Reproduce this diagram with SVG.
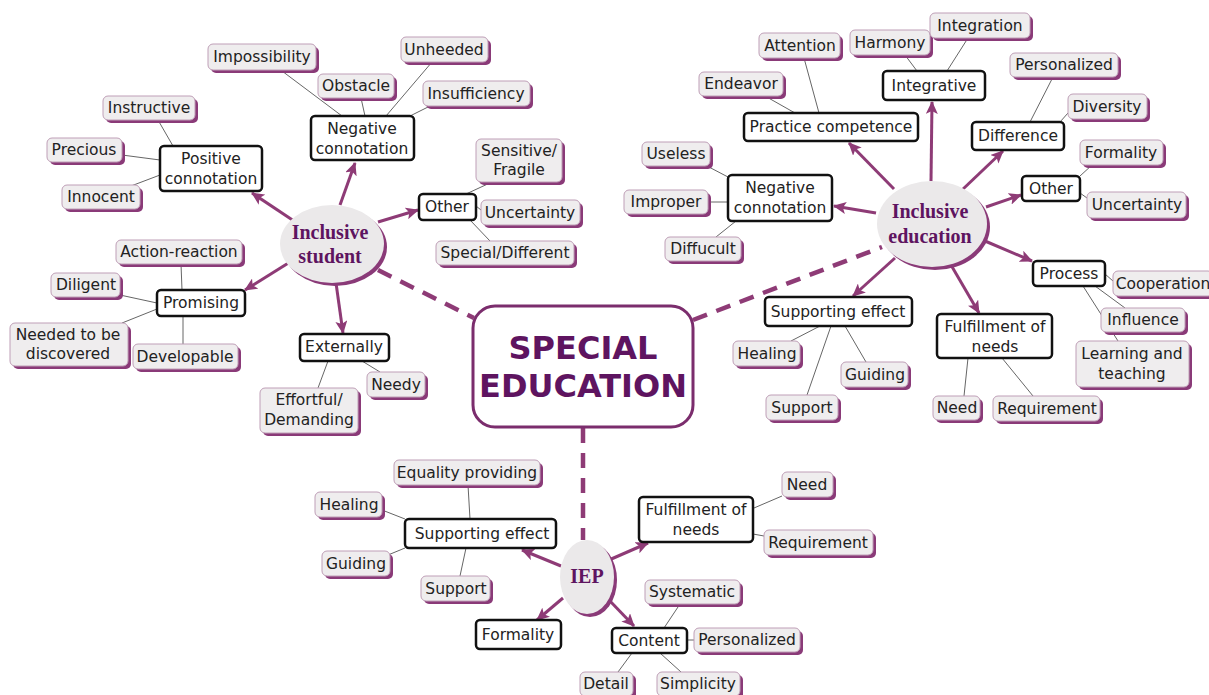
<svg xmlns="http://www.w3.org/2000/svg" width="1209" height="695" viewBox="0 0 1209 695">
<defs>
<style>
.sh{fill:#8a3a78}
.lf{fill:#efedee;stroke:#bf9fb7;stroke-width:1}
.ct{fill:#fff;stroke:#111;stroke-width:2.5}
.t{font-family:"DejaVu Sans",Verdana,sans-serif;font-size:15.5px;fill:#222;text-anchor:middle}
.et{font-family:"Liberation Serif","Times New Roman",serif;font-size:20px;font-weight:bold;fill:#5e1460;text-anchor:middle}
.ell{fill:#ebe9ea}
.lk{stroke:#666;stroke-width:1;fill:none}
.ar{stroke:#8e3b76;stroke-width:3;fill:none;marker-end:url(#ah)}
.ds{stroke:#8e3b76;stroke-width:4.5;fill:none;stroke-dasharray:15 10}
</style>
<marker id="ah" markerWidth="14" markerHeight="12" refX="12" refY="6" orient="auto" markerUnits="userSpaceOnUse">
<path d="M0,0 L13,6 L0,12 L3,6 Z" fill="#8e3b76"/>
</marker>
</defs>
<rect width="1209" height="695" fill="#fff"/>

<g id="connectors">
<line class="ds" x1="378" y1="270" x2="474" y2="318"/>
<line class="ds" x1="693" y1="320" x2="882" y2="247"/>
<line class="ds" x1="583" y1="428" x2="583" y2="540"/>
<line class="ar" x1="294" y1="221" x2="252" y2="193"/>
<line class="ar" x1="340" y1="205" x2="355" y2="163"/>
<line class="ar" x1="378" y1="222" x2="418" y2="210"/>
<line class="ar" x1="290" y1="262" x2="245" y2="290"/>
<line class="ar" x1="336" y1="283" x2="343" y2="333"/>
<line class="ar" x1="894" y1="189" x2="849" y2="143"/>
<line class="ar" x1="931" y1="181" x2="932" y2="102"/>
<line class="ar" x1="962" y1="190" x2="1003" y2="151"/>
<line class="ar" x1="986" y1="207" x2="1021" y2="195"/>
<line class="ar" x1="876" y1="213" x2="834" y2="206"/>
<line class="ar" x1="985" y1="241" x2="1032" y2="261"/>
<line class="ar" x1="895" y1="258" x2="853" y2="296"/>
<line class="ar" x1="951" y1="265" x2="979" y2="313"/>
<line class="ar" x1="561" y1="566" x2="522" y2="550"/>
<line class="ar" x1="609" y1="560" x2="648" y2="543"/>
<line class="ar" x1="609" y1="600" x2="634" y2="626"/>
<line class="ar" x1="563" y1="598" x2="537" y2="620"/>
<line class="lk" x1="282" y1="71" x2="342" y2="116"/>
<line class="lk" x1="361" y1="98" x2="365" y2="116"/>
<line class="lk" x1="432" y1="62" x2="386" y2="116"/>
<line class="lk" x1="428" y1="107" x2="410" y2="116"/>
<line class="lk" x1="158" y1="120" x2="173" y2="146"/>
<line class="lk" x1="122" y1="155" x2="160" y2="160"/>
<line class="lk" x1="131" y1="186" x2="160" y2="175"/>
<line class="lk" x1="492" y1="182" x2="466" y2="194"/>
<line class="lk" x1="476" y1="206" x2="481" y2="210"/>
<line class="lk" x1="490" y1="241" x2="470" y2="220"/>
<line class="lk" x1="181" y1="264" x2="182" y2="290"/>
<line class="lk" x1="120" y1="295" x2="157" y2="303"/>
<line class="lk" x1="122" y1="323" x2="157" y2="309"/>
<line class="lk" x1="183" y1="344" x2="183" y2="316"/>
<line class="lk" x1="328" y1="361" x2="318" y2="388"/>
<line class="lk" x1="362" y1="361" x2="380" y2="372"/>
<line class="lk" x1="804" y1="58" x2="819" y2="113"/>
<line class="lk" x1="765" y1="96" x2="795" y2="113"/>
<line class="lk" x1="905" y1="55" x2="917" y2="71"/>
<line class="lk" x1="968" y1="38" x2="947" y2="71"/>
<line class="lk" x1="1053" y1="77" x2="1030" y2="122"/>
<line class="lk" x1="1068" y1="113" x2="1060" y2="122"/>
<line class="lk" x1="1092" y1="165" x2="1080" y2="176"/>
<line class="lk" x1="1080" y1="193" x2="1087" y2="198"/>
<line class="lk" x1="707" y1="166" x2="728" y2="177"/>
<line class="lk" x1="708" y1="202" x2="728" y2="202"/>
<line class="lk" x1="716" y1="237" x2="736" y2="221"/>
<line class="lk" x1="1105" y1="274" x2="1113" y2="281"/>
<line class="lk" x1="1095" y1="286" x2="1125" y2="308"/>
<line class="lk" x1="1083" y1="286" x2="1118" y2="341"/>
<line class="lk" x1="791" y1="341" x2="820" y2="326"/>
<line class="lk" x1="807" y1="395" x2="831" y2="326"/>
<line class="lk" x1="866" y1="362" x2="845" y2="326"/>
<line class="lk" x1="964" y1="396" x2="968" y2="358"/>
<line class="lk" x1="1033" y1="396" x2="1002" y2="358"/>
<line class="lk" x1="468" y1="485" x2="470" y2="519"/>
<line class="lk" x1="382" y1="510" x2="405" y2="519"/>
<line class="lk" x1="388" y1="555" x2="405" y2="548"/>
<line class="lk" x1="460" y1="576" x2="466" y2="548"/>
<line class="lk" x1="782" y1="496" x2="754" y2="508"/>
<line class="lk" x1="764" y1="536" x2="753" y2="534"/>
<line class="lk" x1="680" y1="604" x2="664" y2="628"/>
<line class="lk" x1="694" y1="640" x2="687" y2="640"/>
<line class="lk" x1="618" y1="672" x2="632" y2="653"/>
<line class="lk" x1="681" y1="672" x2="660" y2="653"/>
</g>

<g id="special-education">
<rect x="473" y="306" width="220" height="121" rx="22" fill="#fff" stroke="#7b2d6d" stroke-width="3"/>
<text x="583" y="359" font-family="'DejaVu Sans',Verdana,sans-serif" font-size="32" font-weight="bold" fill="#5e1460" text-anchor="middle">SPECIAL</text>
<text x="583" y="397" font-family="'DejaVu Sans',Verdana,sans-serif" font-size="32" font-weight="bold" fill="#5e1460" text-anchor="middle">EDUCATION</text>
</g>

<g id="inclusive-student">
<ellipse class="sh" cx="335" cy="247" rx="52" ry="39"/>
<ellipse class="ell" cx="332" cy="244" rx="52" ry="39"/>
<text class="et" x="330" y="239">Inclusive</text>
<text class="et" x="330" y="263">student</text>
</g>
<g id="inclusive-education">
<ellipse class="sh" cx="935" cy="227" rx="55" ry="43"/>
<ellipse class="ell" cx="932" cy="224" rx="55" ry="43"/>
<text class="et" x="930" y="218">Inclusive</text>
<text class="et" x="930" y="243">education</text>
</g>
<g id="iep">
<ellipse class="sh" cx="590" cy="580" rx="27" ry="37"/>
<ellipse class="ell" cx="587" cy="577" rx="27" ry="37"/>
<text class="et" x="587" y="583">IEP</text>
</g>

<g id="is-negative"><rect class="ct" x="311" y="116" width="103" height="44" rx="4"/><text class="t" x="362" y="134">Negative</text><text class="t" x="362" y="154">connotation</text></g>
<g id="is-impossibility"><rect class="sh" x="211" y="47" width="108" height="26" rx="5"/><rect class="lf" x="208" y="44" width="108" height="26" rx="5"/><text class="t" x="262" y="62">Impossibility</text></g>
<g id="is-unheeded"><rect class="sh" x="404" y="40" width="87" height="25" rx="5"/><rect class="lf" x="401" y="37" width="87" height="25" rx="5"/><text class="t" x="444" y="55">Unheeded</text></g>
<g id="is-obstacle"><rect class="sh" x="321" y="77" width="76" height="24" rx="5"/><rect class="lf" x="318" y="74" width="76" height="24" rx="5"/><text class="t" x="356" y="91">Obstacle</text></g>
<g id="is-insufficiency"><rect class="sh" x="426" y="84" width="107" height="25" rx="5"/><rect class="lf" x="423" y="81" width="107" height="25" rx="5"/><text class="t" x="476" y="99">Insufficiency</text></g>
<g id="is-positive"><rect class="ct" x="160" y="146" width="102" height="45" rx="4"/><text class="t" x="211" y="164">Positive</text><text class="t" x="211" y="184">connotation</text></g>
<g id="is-instructive"><rect class="sh" x="106" y="99" width="92" height="24" rx="5"/><rect class="lf" x="103" y="96" width="92" height="24" rx="5"/><text class="t" x="149" y="113">Instructive</text></g>
<g id="is-precious"><rect class="sh" x="50" y="141" width="75" height="24" rx="5"/><rect class="lf" x="47" y="138" width="75" height="24" rx="5"/><text class="t" x="84" y="155">Precious</text></g>
<g id="is-innocent"><rect class="sh" x="65" y="188" width="78" height="24" rx="5"/><rect class="lf" x="62" y="185" width="78" height="24" rx="5"/><text class="t" x="101" y="202">Innocent</text></g>
<g id="is-other"><rect class="ct" x="419" y="194" width="57" height="26" rx="4"/><text class="t" x="447" y="212">Other</text></g>
<g id="is-sensitive"><rect class="sh" x="479" y="142" width="86" height="43" rx="5"/><rect class="lf" x="476" y="139" width="86" height="43" rx="5"/><text class="t" x="519" y="156">Sensitive/</text><text class="t" x="519" y="175">Fragile</text></g>
<g id="is-uncertainty"><rect class="sh" x="484" y="203" width="99" height="25" rx="5"/><rect class="lf" x="481" y="200" width="99" height="25" rx="5"/><text class="t" x="530" y="218">Uncertainty</text></g>
<g id="is-special"><rect class="sh" x="439" y="244" width="138" height="24" rx="5"/><rect class="lf" x="436" y="241" width="138" height="24" rx="5"/><text class="t" x="505" y="258">Special/Different</text></g>
<g id="is-promising"><rect class="ct" x="157" y="290" width="88" height="26" rx="4"/><text class="t" x="201" y="308">Promising</text></g>
<g id="is-action"><rect class="sh" x="119" y="243" width="126" height="24" rx="5"/><rect class="lf" x="116" y="240" width="126" height="24" rx="5"/><text class="t" x="179" y="257">Action-reaction</text></g>
<g id="is-diligent"><rect class="sh" x="54" y="276" width="69" height="24" rx="5"/><rect class="lf" x="51" y="273" width="69" height="24" rx="5"/><text class="t" x="86" y="290">Diligent</text></g>
<g id="is-needed"><rect class="sh" x="13" y="326" width="118" height="43" rx="5"/><rect class="lf" x="10" y="323" width="118" height="43" rx="5"/><text class="t" x="68" y="340">Needed to be</text><text class="t" x="68" y="359">discovered</text></g>
<g id="is-developable"><rect class="sh" x="136" y="347" width="105" height="25" rx="5"/><rect class="lf" x="133" y="344" width="105" height="25" rx="5"/><text class="t" x="185" y="362">Developable</text></g>
<g id="is-externally"><rect class="ct" x="300" y="334" width="89" height="27" rx="4"/><text class="t" x="344" y="352">Externally</text></g>
<g id="is-needy"><rect class="sh" x="370" y="375" width="58" height="25" rx="5"/><rect class="lf" x="367" y="372" width="58" height="25" rx="5"/><text class="t" x="396" y="390">Needy</text></g>
<g id="is-effortful"><rect class="sh" x="263" y="391" width="98" height="45" rx="5"/><rect class="lf" x="260" y="388" width="98" height="45" rx="5"/><text class="t" x="309" y="405">Effortful/</text><text class="t" x="309" y="425">Demanding</text></g>

<g id="ie-attention"><rect class="sh" x="762" y="36" width="81" height="25" rx="5"/><rect class="lf" x="759" y="33" width="81" height="25" rx="5"/><text class="t" x="800" y="51">Attention</text></g>
<g id="ie-harmony"><rect class="sh" x="853" y="33" width="80" height="25" rx="5"/><rect class="lf" x="850" y="30" width="80" height="25" rx="5"/><text class="t" x="890" y="48">Harmony</text></g>
<g id="ie-integration"><rect class="sh" x="933" y="16" width="100" height="25" rx="5"/><rect class="lf" x="930" y="13" width="100" height="25" rx="5"/><text class="t" x="980" y="31">Integration</text></g>
<g id="ie-endeavor"><rect class="sh" x="702" y="75" width="84" height="24" rx="5"/><rect class="lf" x="699" y="72" width="84" height="24" rx="5"/><text class="t" x="741" y="89">Endeavor</text></g>
<g id="ie-integrative"><rect class="ct" x="883" y="71" width="102" height="29" rx="4"/><text class="t" x="934" y="91">Integrative</text></g>
<g id="ie-personalized"><rect class="sh" x="1013" y="56" width="108" height="24" rx="5"/><rect class="lf" x="1010" y="53" width="108" height="24" rx="5"/><text class="t" x="1064" y="70">Personalized</text></g>
<g id="ie-practice"><rect class="ct" x="744" y="113" width="174" height="28" rx="4"/><text class="t" x="831" y="132">Practice competence</text></g>
<g id="ie-diversity"><rect class="sh" x="1071" y="97" width="79" height="25" rx="5"/><rect class="lf" x="1068" y="94" width="79" height="25" rx="5"/><text class="t" x="1107" y="112">Diversity</text></g>
<g id="ie-difference"><rect class="ct" x="972" y="122" width="92" height="28" rx="4"/><text class="t" x="1018" y="141">Difference</text></g>
<g id="ie-formality"><rect class="sh" x="1083" y="143" width="83" height="25" rx="5"/><rect class="lf" x="1080" y="140" width="83" height="25" rx="5"/><text class="t" x="1121" y="158">Formality</text></g>
<g id="ie-other"><rect class="ct" x="1022" y="176" width="58" height="25" rx="4"/><text class="t" x="1051" y="194">Other</text></g>
<g id="ie-uncertainty"><rect class="sh" x="1090" y="195" width="99" height="26" rx="5"/><rect class="lf" x="1087" y="192" width="99" height="26" rx="5"/><text class="t" x="1137" y="210">Uncertainty</text></g>
<g id="ie-useless"><rect class="sh" x="645" y="145" width="68" height="24" rx="5"/><rect class="lf" x="642" y="142" width="68" height="24" rx="5"/><text class="t" x="676" y="159">Useless</text></g>
<g id="ie-negative"><rect class="ct" x="728" y="175" width="104" height="46" rx="4"/><text class="t" x="780" y="193">Negative</text><text class="t" x="780" y="213">connotation</text></g>
<g id="ie-improper"><rect class="sh" x="627" y="193" width="84" height="24" rx="5"/><rect class="lf" x="624" y="190" width="84" height="24" rx="5"/><text class="t" x="666" y="207">Improper</text></g>
<g id="ie-diffucult"><rect class="sh" x="668" y="240" width="76" height="24" rx="5"/><rect class="lf" x="665" y="237" width="76" height="24" rx="5"/><text class="t" x="703" y="254">Diffucult</text></g>
<g id="ie-process"><rect class="ct" x="1033" y="261" width="72" height="25" rx="4"/><text class="t" x="1069" y="279">Process</text></g>
<g id="ie-cooperation"><rect class="sh" x="1116" y="274" width="100" height="25" rx="5"/><rect class="lf" x="1113" y="271" width="100" height="25" rx="5"/><text class="t" x="1163" y="289">Cooperation</text></g>
<g id="ie-supporting"><rect class="ct" x="765" y="297" width="147" height="29" rx="4"/><text class="t" x="838" y="317">Supporting effect</text></g>
<g id="ie-influence"><rect class="sh" x="1104" y="311" width="84" height="24" rx="5"/><rect class="lf" x="1101" y="308" width="84" height="24" rx="5"/><text class="t" x="1143" y="325">Influence</text></g>
<g id="ie-fulfillment"><rect class="ct" x="937" y="314" width="115" height="44" rx="4"/><text class="t" x="995" y="332">Fulfillment of</text><text class="t" x="995" y="352">needs</text></g>
<g id="ie-learning"><rect class="sh" x="1079" y="344" width="113" height="46" rx="5"/><rect class="lf" x="1076" y="341" width="113" height="46" rx="5"/><text class="t" x="1132" y="359">Learning and</text><text class="t" x="1132" y="379">teaching</text></g>
<g id="ie-healing"><rect class="sh" x="736" y="344" width="67" height="25" rx="5"/><rect class="lf" x="733" y="341" width="67" height="25" rx="5"/><text class="t" x="767" y="359">Healing</text></g>
<g id="ie-guiding"><rect class="sh" x="844" y="365" width="67" height="25" rx="5"/><rect class="lf" x="841" y="362" width="67" height="25" rx="5"/><text class="t" x="875" y="380">Guiding</text></g>
<g id="ie-support"><rect class="sh" x="769" y="398" width="72" height="25" rx="5"/><rect class="lf" x="766" y="395" width="72" height="25" rx="5"/><text class="t" x="802" y="413">Support</text></g>
<g id="ie-need"><rect class="sh" x="936" y="399" width="47" height="24" rx="5"/><rect class="lf" x="933" y="396" width="47" height="24" rx="5"/><text class="t" x="957" y="413">Need</text></g>
<g id="ie-requirement"><rect class="sh" x="996" y="399" width="107" height="25" rx="5"/><rect class="lf" x="993" y="396" width="107" height="25" rx="5"/><text class="t" x="1047" y="414">Requirement</text></g>

<g id="iep-equality"><rect class="sh" x="397" y="463" width="146" height="25" rx="5"/><rect class="lf" x="394" y="460" width="146" height="25" rx="5"/><text class="t" x="467" y="478">Equality providing</text></g>
<g id="iep-healing"><rect class="sh" x="318" y="495" width="67" height="25" rx="5"/><rect class="lf" x="315" y="492" width="67" height="25" rx="5"/><text class="t" x="349" y="510">Healing</text></g>
<g id="iep-supporting"><rect class="ct" x="405" y="519" width="151" height="29" rx="4"/><text class="t" x="482" y="539">Supporting effect</text></g>
<g id="iep-guiding"><rect class="sh" x="325" y="554" width="68" height="25" rx="5"/><rect class="lf" x="322" y="551" width="68" height="25" rx="5"/><text class="t" x="356" y="569">Guiding</text></g>
<g id="iep-support"><rect class="sh" x="424" y="579" width="69" height="25" rx="5"/><rect class="lf" x="421" y="576" width="69" height="25" rx="5"/><text class="t" x="456" y="594">Support</text></g>
<g id="iep-formality"><rect class="ct" x="476" y="620" width="85" height="29" rx="4"/><text class="t" x="518" y="640">Formality</text></g>
<g id="iep-need"><rect class="sh" x="785" y="475" width="51" height="25" rx="5"/><rect class="lf" x="782" y="472" width="51" height="25" rx="5"/><text class="t" x="807" y="490">Need</text></g>
<g id="iep-fulfillment"><rect class="ct" x="639" y="497" width="114" height="45" rx="4"/><text class="t" x="696" y="515">Fulfillment of</text><text class="t" x="696" y="535">needs</text></g>
<g id="iep-requirement"><rect class="sh" x="767" y="533" width="109" height="25" rx="5"/><rect class="lf" x="764" y="530" width="109" height="25" rx="5"/><text class="t" x="818" y="548">Requirement</text></g>
<g id="iep-systematic"><rect class="sh" x="648" y="583" width="95" height="24" rx="5"/><rect class="lf" x="645" y="580" width="95" height="24" rx="5"/><text class="t" x="692" y="597">Systematic</text></g>
<g id="iep-content"><rect class="ct" x="612" y="628" width="75" height="25" rx="4"/><text class="t" x="649" y="646">Content</text></g>
<g id="iep-personalized"><rect class="sh" x="697" y="631" width="106" height="24" rx="5"/><rect class="lf" x="694" y="628" width="106" height="24" rx="5"/><text class="t" x="747" y="645">Personalized</text></g>
<g id="iep-detail"><rect class="sh" x="583" y="675" width="53" height="24" rx="5"/><rect class="lf" x="580" y="672" width="53" height="24" rx="5"/><text class="t" x="606" y="689">Detail</text></g>
<g id="iep-simplicity"><rect class="sh" x="660" y="675" width="83" height="24" rx="5"/><rect class="lf" x="657" y="672" width="83" height="24" rx="5"/><text class="t" x="698" y="689">Simplicity</text></g>
</svg>
